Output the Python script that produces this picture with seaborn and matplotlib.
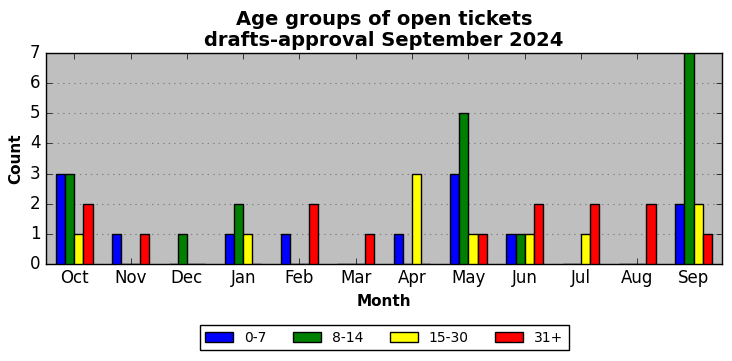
import pandas as pd
import matplotlib.pyplot as plt
import seaborn as sns

# Open tickets per month, split by age group
months = ['Oct', 'Nov', 'Dec', 'Jan', 'Feb', 'Mar', 'Apr', 'May', 'Jun', 'Jul', 'Aug', 'Sep']
age_groups = ['0-7', '8-14', '15-30', '31+']
counts_0_7 = [3, 1, 0, 1, 1, 0, 1, 3, 1, 0, 0, 2]
counts_8_14 = [3, 0, 1, 2, 0, 0, 0, 5, 1, 0, 0, 7]
counts_15_30 = [1, 0, 0, 1, 0, 0, 3, 1, 1, 1, 0, 2]
counts_31_plus = [2, 1, 0, 0, 2, 1, 0, 1, 2, 2, 2, 1]
colors = ['blue', 'green', 'yellow', 'red']

# Long format table for seaborn
wide = pd.DataFrame({
    'Month': months,
    '0-7': counts_0_7,
    '8-14': counts_8_14,
    '15-30': counts_15_30,
    '31+': counts_31_plus,
})
data = wide.melt(id_vars='Month', var_name='Age', value_name='Count')

plt.style.use('classic')
fig, ax = plt.subplots(figsize=(7.32, 3.61), dpi=100)
fig.patch.set_facecolor('white')
fig.subplots_adjust(left=0.063, right=0.986, top=0.853, bottom=0.269)

sns.barplot(data=data, x='Month', y='Count', hue='Age', order=months,
            hue_order=age_groups, palette=colors, saturation=1, width=0.65,
            edgecolor='black', linewidth=1, errorbar=None, ax=ax, zorder=3)

ax.set_facecolor('#bfbfbf')
ax.set_xlim(-0.5, len(months) - 0.5)
ax.set_ylim(0, 7)
ax.set_yticks(range(0, 8))
ax.yaxis.grid(True, linestyle=':', color='gray', linewidth=0.8, zorder=0)
ax.set_axisbelow(True)
ax.set_title('Age groups of open tickets\ndrafts-approval September 2024',
             fontsize=14, fontweight='bold', linespacing=1.15)
ax.set_xlabel('Month', fontsize=11, fontweight='bold')
ax.set_ylabel('Count', fontsize=11, fontweight='bold')

handles, labels = ax.get_legend_handles_labels()
ax.get_legend().remove()
fig.legend(handles, labels, loc='center', ncol=4, fontsize=10,
           bbox_to_anchor=(0.525, 0.064), fancybox=False, handlelength=2.0,
           columnspacing=1.9)

plt.savefig('out.png', dpi=100, facecolor='white')
plt.close()
